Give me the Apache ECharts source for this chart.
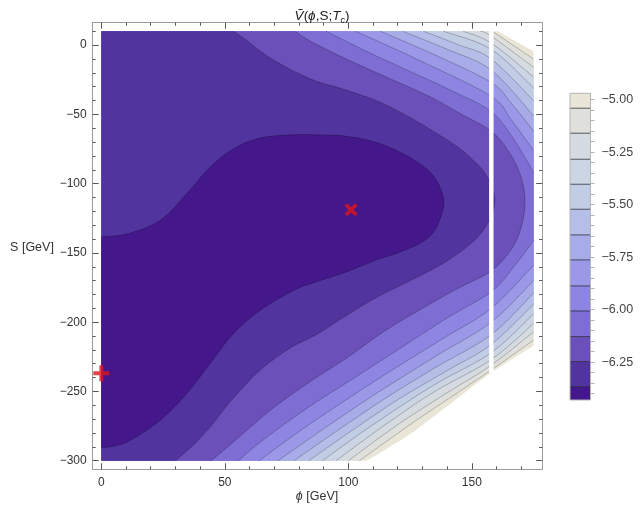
<!DOCTYPE html>
<html>
<head>
<meta charset="utf-8">
<script src="https://cdn.jsdelivr.net/npm/echarts@6/dist/echarts.min.js"></script>
<style>
html, body { margin: 0; padding: 0; background: #fff; }
#chart { width: 643px; height: 512px; }
</style>
</head>
<body>
<div id="chart"></div>
<script>
// contour levels (low to high), and the bar's range
var levels = [-6.366, -6.247, -6.128, -6.006, -5.887, -5.763, -5.644, -5.522, -5.403, -5.284, -5.160, -5.041];
var barRange = [-6.43, -4.97];
var barLabels = [-5.00, -5.25, -5.50, -5.75, -6.00, -6.25];
var barTicks = [-6.40, -6.35, -6.30, -6.25, -6.20, -6.15, -6.10, -6.05, -6.00, -5.95, -5.90, -5.85, -5.80,
    -5.75, -5.70, -5.65, -5.60, -5.55, -5.50, -5.45, -5.40, -5.35, -5.30, -5.25, -5.20, -5.15, -5.10, -5.05, -5.00];

var xTicks = [0, 50, 100, 150];
var xMinor = [10, 20, 30, 40, 60, 70, 80, 90, 110, 120, 130, 140, 160, 170];
var yTicks = [0, -50, -100, -150, -200, -250, -300];
var yMinor = [10, -10, -20, -30, -40, -60, -70, -80, -90, -110, -120, -130, -140, -160, -170, -180, -190,
    -210, -220, -230, -240, -260, -270, -280, -290];

// data domain (phi, S)
var phiRange = [0, 175];
var sRange = [-300, 10];

// contour lines as [phi, S] points
var c0 = [[0, -138.3], [10, -136.4], [23.6, -126.8], [34.4, -107.5], [43.9, -88.3], [53.3, -75], [64.1, -67.1],
    [77.6, -64.7], [89, -64.8], [98, -65.5], [111.5, -70.3], [125, -81.1], [134.4, -94.3], [138.5, -110],
    [137.8, -122], [134.5, -135], [129, -143], [120, -150], [111.5, -155], [98, -164.5], [86, -171.5],
    [77.6, -177.3], [64.1, -191.7], [53.3, -208.6], [43.9, -230.2], [34.4, -251.9], [23.6, -271.1],
    [10.1, -286.8], [0, -290.8]];
var c1 = [[53.5, 10], [58.5, 4], [64.1, -4.1], [70, -11], [77.6, -18.5], [87, -26], [98, -31.8], [111.5, -40.2],
    [125, -52.2], [138.5, -66.7], [145, -74.5], [149.3, -81], [154.3, -90], [157.6, -100], [159.3, -112],
    [157.7, -124], [154, -135], [148.5, -145], [138, -158], [125, -170], [111.5, -182], [98, -196.6],
    [87, -209], [78, -217], [70.9, -225.4], [64, -235], [57.4, -247], [50, -262], [43.9, -276], [37, -289], [30, -300]];
var c2 = [[78.5, 10], [84.5, 3], [98, -9], [111.5, -20], [125, -30.6], [135, -39], [145.5, -49.6], [157.9, -62],
    [165, -77], [169.5, -93], [171.5, -110], [170.5, -128], [166.5, -146], [157.9, -163], [145, -175],
    [130, -190], [115, -206], [100, -225], [87, -240], [78, -251], [71, -260], [64, -270], [57, -281],
    [50.5, -291], [44.5, -300]];
var c3 = [[91, 10], [108, -5], [125, -19], [142, -33], [157.9, -48], [167, -68], [175, -92], [175, -141],
    [167, -160], [157.9, -178], [140, -197], [120, -220], [100, -243], [85, -260], [70, -279], [62, -290], [55.5, -300]];
var c4 = [[103, 10], [130, -12], [157.9, -37], [166, -54], [175, -76], [175, -159], [157.9, -190], [140, -210],
    [120, -232], [100, -255], [80, -279], [64, -300]];
var c5 = [[113, 10], [135, -7], [157.9, -27], [166, -42], [175, -62], [175, -170], [157.9, -200], [135, -225],
    [110, -253], [90, -277], [71.5, -300]];
var c6 = [[122, 10], [140, -3], [157.9, -18], [175, -51], [175, -179], [157.9, -209], [135, -233], [115, -255],
    [95, -279], [78, -300]];
var c7 = [[130.5, 10], [145, 0], [157.9, -10], [175, -40], [175, -187], [157.9, -216], [140, -235], [120, -256],
    [100, -280], [84, -300]];
var c8 = [[138.5, 10], [157.9, -3], [175, -31], [175, -194], [157.9, -222], [135, -245], [110, -274], [89.5, -300]];
var c9 = [[146.5, 10], [157.9, 1.5], [175, -23], [175, -201], [157.9, -227], [135, -250], [115, -274], [95, -300]];
var c10 = [[153.5, 10], [157.9, 6.5], [175, -16], [175, -207], [157.9, -231], [140, -251], [120, -274], [100, -300]];
var c11 = [[158.3, 10], [175, -10], [175, -213], [157.9, -234.5], [145, -250], [125, -274], [104.5, -300]];
var plotEdge = [[160.5, 10], [175, -4.5], [175, -217], [157.9, -236.5], [141.2, -259], [125, -280.7], [107.5, -300]];

// the blank strip in the data
var gapPhi = [157.0, 158.8];
var gapS = [10, -236.5];

// marked points
var minPoint = [[101.1, -118.9]];
var originPoint = [[0, -236.8]];

var bandColors = ['#44188a', '#52349f', '#6a50b8', '#7e6dd2', '#8d85e1', '#9a98e7', '#a7abe7',
    '#b5bee6', '#c1cce5', '#cbd5e3', '#d5dbe1', '#dfe0dc', '#eae6d7'];

var contours = [c0, c1, c2, c3, c4, c5, c6, c7, c8, c9, c10, c11, plotEdge];
var font = '"Liberation Sans", Arial, sans-serif';
var frameColor = '#9a9a9a';
var tickColor = '#555';

function minus(v){
    return String(v).replace('-', '\u2212');
}

function xAx(position, ticks, len, withLine, withLabels){
    return {
        type: 'value', gridIndex: 0, position: position, min: -3.5, max: 178.5,
        axisLine: {show: withLine, onZero: false, lineStyle: {color: frameColor, width: 1}},
        axisTick: {show: true, inside: true, length: len, customValues: ticks, lineStyle: {color: tickColor}},
        axisLabel: {show: withLabels, customValues: xTicks, margin: 7, color: '#333', fontSize: 12,
            fontFamily: font, formatter: minus},
        splitLine: {show: false}
    };
}

function yAx(position, ticks, len, withLine, withLabels){
    return {
        type: 'value', gridIndex: 0, position: position, min: -306.2, max: 16.2,
        axisLine: {show: withLine, onZero: false, lineStyle: {color: frameColor, width: 1}},
        axisTick: {show: true, inside: true, length: len, customValues: ticks, lineStyle: {color: tickColor}},
        axisLabel: {show: withLabels, customValues: yTicks, margin: 6, color: '#333', fontSize: 12,
            fontFamily: font, formatter: minus},
        splitLine: {show: false}
    };
}

// split a contour where it runs along the right edge of the data
function pieces(c){
    var out = [], cur = [c[0]];
    for (var i = 1; i < c.length; i++) {
        if (c[i][0] === phiRange[1] && c[i - 1][0] === phiRange[1]) {
            out.push(cur);
            cur = [c[i]];
        } else {
            cur.push(c[i]);
        }
    }
    out.push(cur);
    return out;
}

// smooth curve through the read points (pixel space)
function smoothPx(px){
    if (px.length < 3) return px;
    var out = [px[0]];
    for (var i = 0; i < px.length - 1; i++) {
        var p0 = px[Math.max(i - 1, 0)], p1 = px[i], p2 = px[i + 1], p3 = px[Math.min(i + 2, px.length - 1)];
        for (var s = 1; s <= 6; s++) {
            var t = s / 6, t2 = t * t, t3 = t2 * t;
            out.push([
                0.5 * (2 * p1[0] + (p2[0] - p0[0]) * t + (2 * p0[0] - 5 * p1[0] + 4 * p2[0] - p3[0]) * t2 + (3 * p1[0] - p0[0] - 3 * p2[0] + p3[0]) * t3),
                0.5 * (2 * p1[1] + (p2[1] - p0[1]) * t + (2 * p0[1] - 5 * p1[1] + 4 * p2[1] - p3[1]) * t2 + (3 * p1[1] - p0[1] - 3 * p2[1] + p3[1]) * t3)
            ]);
        }
    }
    return out;
}

function curvePieces(k, api){
    return pieces(contours[k]).map(function(pc){
        return smoothPx(pc.map(function(p){ return api.coord(p); }));
    });
}

function renderFill(params, api){
    var k = api.value(0);
    var pts = [];
    curvePieces(k, api).forEach(function(pc){ pts = pts.concat(pc); });
    if (k > 0) {
        pts.push(api.coord([phiRange[0], sRange[0]]), api.coord([phiRange[0], sRange[1]]));
    }
    return {type: 'polygon', z2: 20 - k, shape: {points: pts}, style: {fill: bandColors[k]}};
}

function renderLine(params, api){
    return {
        type: 'group',
        children: curvePieces(api.value(0), api).map(function(pts){
            return {type: 'polyline', z2: 40, shape: {points: pts},
                style: {stroke: 'rgba(0,0,0,0.33)', lineWidth: 0.7, fill: null}};
        })
    };
}

function renderGap(params, api){
    var a = api.coord([api.value(0), api.value(1)]),
        b = api.coord([api.value(2), api.value(3)]);
    return {type: 'rect', z2: 50, shape: {x: a[0], y: a[1] - 1, width: b[0] - a[0], height: b[1] - a[1] + 1},
        style: {fill: '#fff'}};
}

function renderBand(params, api){
    var k = api.value(0),
        n = levels.length,
        lo = k === 0 ? barRange[0] : levels[k - 1],
        hi = k === n ? barRange[1] : levels[k],
        a = api.coord([0, hi]),
        b = api.coord([1, lo]),
        children = [{type: 'rect', z2: 0, shape: {x: a[0], y: a[1], width: b[0] - a[0], height: b[1] - a[1]},
            style: {fill: bandColors[k]}}];
    if (k < n) {
        children.push({type: 'line', z2: 10, shape: {x1: a[0], y1: a[1], x2: b[0], y2: a[1]},
            style: {stroke: 'rgba(25,25,35,0.7)', lineWidth: 1}});
    } else {
        var t = api.coord([0, barRange[1]]), u = api.coord([1, barRange[0]]);
        children.push({type: 'rect', z2: 20, shape: {x: t[0], y: t[1], width: u[0] - t[0], height: u[1] - t[1]},
            style: {fill: null, stroke: '#b5b5b5', lineWidth: 1}});
    }
    return {type: 'group', children: children};
}

var fillData = [];
for (var k = contours.length - 1; k >= 0; k--) fillData.push([k, 0]);
var lineData = [];
for (var j = 0; j < contours.length - 1; j++) lineData.push([j, 0]);
var bandData = [];
for (var b = 0; b <= levels.length; b++) bandData.push([b, 0]);

var chart = echarts.init(document.getElementById('chart'));
chart.setOption({
    animation: false,
    backgroundColor: '#fff',
    title: {
        text: '{i|\u1E7C}{n|(}{i|\u03D5}{n|,S;}{i|T}{s|c}{n|)}',
        left: 317, top: 2, textAlign: 'center',
        textStyle: {
            fontFamily: font, fontWeight: 'normal', fontSize: 13.5, color: '#222',
            rich: {
                i: {fontFamily: font, fontStyle: 'italic', fontSize: 13.5, color: '#222', lineHeight: 18},
                n: {fontFamily: font, fontSize: 13.5, color: '#222', lineHeight: 18},
                s: {fontFamily: font, fontStyle: 'italic', fontSize: 9, color: '#222', lineHeight: 18,
                    verticalAlign: 'bottom', padding: [6, 0, 0, 0]}
            }
        }
    },
    grid: [
        {left: 92.7, right: 100.8, top: 22.7, bottom: 42.7},
        {left: 570, top: 93.3, width: 20.5, height: 306.7}
    ],
    xAxis: [
        xAx('bottom', xTicks, 6, true, true),
        xAx('bottom', xMinor, 3, false, false),
        xAx('top', xTicks, 6, true, false),
        xAx('top', xMinor, 3, false, false),
        {type: 'value', gridIndex: 1, min: 0, max: 1, show: false}
    ],
    yAxis: [
        yAx('left', yTicks, 6, true, true),
        yAx('left', yMinor, 3, false, false),
        yAx('right', yTicks, 6, true, false),
        yAx('right', yMinor, 3, false, false),
        {
            type: 'value', gridIndex: 1, position: 'right', min: barRange[0], max: barRange[1],
            axisLine: {show: false, onZero: false},
            axisTick: {show: true, inside: false, length: 4, customValues: barTicks,
                lineStyle: {color: '#b0b0b0'}},
            axisLabel: {customValues: barLabels, margin: 11, color: '#444', fontSize: 12.5, fontFamily: font,
                formatter: function(v){ return minus(v.toFixed(2)); }},
            splitLine: {show: false}
        }
    ],
    graphic: [
        {type: 'text', x: 317, y: 497, style: {text: '{i|\u03D5} [GeV]', textAlign: 'center',
            textVerticalAlign: 'middle', fill: '#333', font: '12.5px ' + font,
            rich: {i: {fontStyle: 'italic', fontFamily: font, fontSize: 12.5, fill: '#333'}}}},
        {type: 'text', x: 32, y: 248, style: {text: 'S [GeV]', textAlign: 'center',
            textVerticalAlign: 'middle', fill: '#333', font: '12.5px ' + font}}
    ],
    series: [
        {type: 'custom', xAxisIndex: 0, yAxisIndex: 0, renderItem: renderFill, data: fillData, clip: true, silent: true},
        {type: 'custom', xAxisIndex: 0, yAxisIndex: 0, renderItem: renderLine, data: lineData, clip: true, silent: true},
        {type: 'custom', xAxisIndex: 0, yAxisIndex: 0, renderItem: renderGap,
            data: [[gapPhi[0], gapS[0], gapPhi[1], gapS[1]]], silent: true},
        {type: 'scatter', xAxisIndex: 0, yAxisIndex: 0, data: minPoint, z: 5, silent: true,
            symbol: 'path://M2,0 L5,3 L8,0 L10,2 L7,5 L10,8 L8,10 L5,7 L2,10 L0,8 L3,5 L0,2 Z',
            symbolSize: 13, itemStyle: {color: '#e0141c'}},
        {type: 'scatter', xAxisIndex: 0, yAxisIndex: 0, data: originPoint, z: 5, silent: true,
            symbol: 'path://M6,0 L10,0 L10,6 L16,6 L16,10 L10,10 L10,16 L6,16 L6,10 L0,10 L0,6 L6,6 Z',
            symbolSize: 16, itemStyle: {color: '#e0141c'}},
        {type: 'custom', xAxisIndex: 4, yAxisIndex: 4, renderItem: renderBand, data: bandData, silent: true}
    ]
});
</script>
</body>
</html>
